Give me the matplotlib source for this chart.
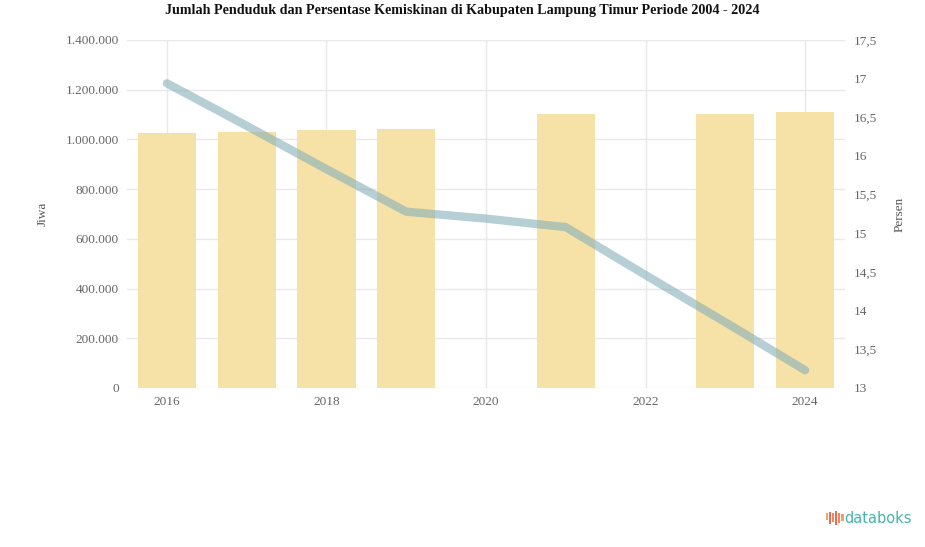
import numpy as np
import matplotlib
matplotlib.use("Agg")
import matplotlib.pyplot as plt
from matplotlib.patches import Rectangle

# data
tahun = ["2016", "2017", "2018", "2019", "2020", "2021", "2022", "2023", "2024"]
penduduk = [1026000, 1030000, 1038000, 1042000, np.nan, 1102000, np.nan, 1104000, 1110000]
kemiskinan = [16.94, 16.39, 15.83, 15.28, 15.19, 15.08, 14.46, 13.85, 13.23]

left_ticks = [0, 200000, 400000, 600000, 800000, 1000000, 1200000, 1400000]
right_ticks = [13, 13.5, 14, 14.5, 15, 15.5, 16, 16.5, 17, 17.5]

plt.rcParams['font.family'] = ['Liberation Serif', 'DejaVu Serif']

fig = plt.figure(figsize=(9.25, 5.47), dpi=100)
ax = fig.add_axes([0.1373, 0.2907, 0.7762, 0.6362])
ax2 = ax.twinx()

x = np.arange(len(tahun))
ax.bar(x, penduduk, width=0.73, color='#F6E2A6', zorder=2)
ax.set_xlim(-0.5, len(tahun) - 0.5)
ax.set_ylim(0, 1400000)
ax.set_yticks(left_ticks)
ax.set_yticklabels(['{:,}'.format(v).replace(',', '.') for v in left_ticks])
ax.set_xticks(x[::2])
ax.set_xticklabels(tahun[::2])
ax.grid(True, color='#e8e8e8', linewidth=1, zorder=0)
ax.set_axisbelow(True)

ax2.plot(x, kemiskinan, color='#86B0B9', alpha=0.6, linewidth=6,
         solid_capstyle='round', solid_joinstyle='round', zorder=3)
ax2.set_ylim(13, 17.5)
ax2.set_yticks(right_ticks)
ax2.set_yticklabels([('%g' % v).replace('.', ',') for v in right_ticks])

for a in (ax, ax2):
    for s in a.spines.values():
        s.set_visible(False)
    a.tick_params(length=0, labelsize=9.5, colors='#666666', pad=6)

ax.set_ylabel('Jiwa', color='#555555', fontsize=9.5, labelpad=12)
ax2.set_ylabel('Persen', color='#555555', fontsize=9.5, labelpad=12)

fig.suptitle('Jumlah Penduduk dan Persentase Kemiskinan di Kabupaten Lampung Timur Periode 2004 - 2024',
             x=0.5, y=0.993, fontsize=10.2, fontweight='bold', color='#111111')

# logo
fig.text(0.913, 0.053, 'databoks', color='#45B4AC', fontsize=10.5,
         family='DejaVu Sans', ha='left', va='center')
bar_h = [0.012, 0.022, 0.016, 0.026, 0.018, 0.012]
bar_y = [0.050, 0.042, 0.046, 0.040, 0.044, 0.048]
bar_c = ['#F4A261', '#EE6B5A', '#F08A5D', '#EE6B5A', '#F08A5D', '#F4A261']
for i in range(len(bar_h)):
    fig.add_artist(Rectangle((0.8932 + i * 0.0033, bar_y[i]), 0.0022, bar_h[i],
                             transform=fig.transFigure, facecolor=bar_c[i],
                             linewidth=0))

fig.savefig('out.png', dpi=100)
